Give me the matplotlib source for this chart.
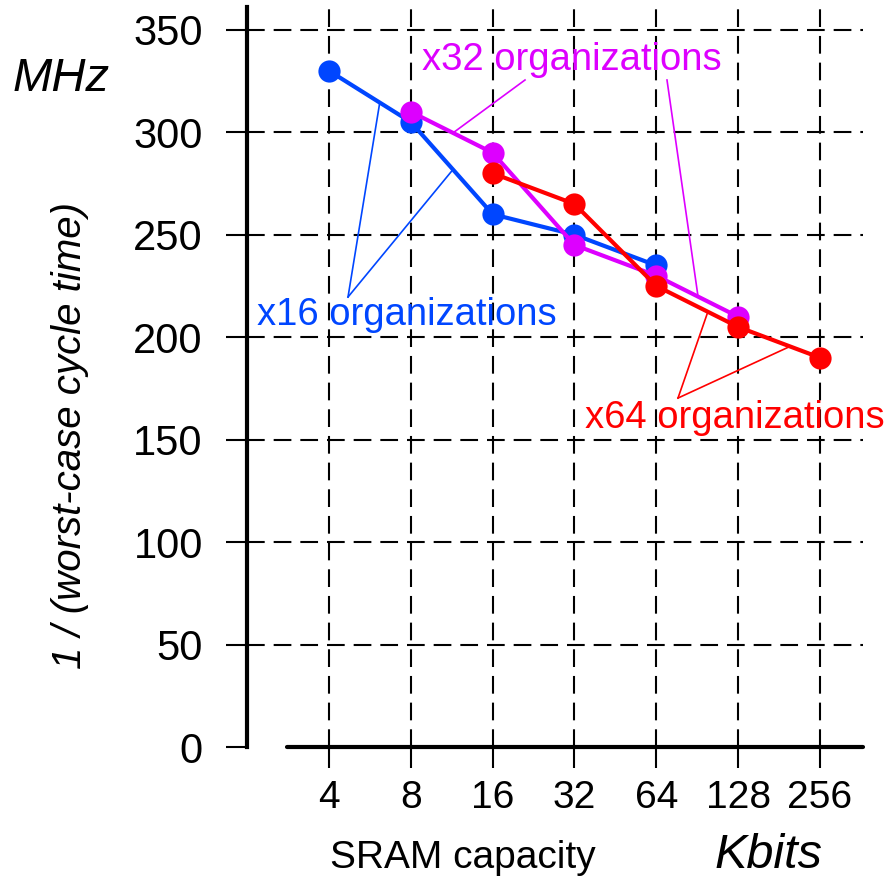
import numpy as np
import matplotlib
matplotlib.use("Agg")
import matplotlib.pyplot as plt

# ---- data ----
capacity_labels = ["4", "8", "16", "32", "64", "128", "256"]
x16_cap = [4, 8, 16, 32, 64]
x16_mhz = [330, 305, 260, 250, 235]
x32_cap = [8, 16, 32, 64, 128]
x32_mhz = [310, 290, 245, 230, 210]
x64_cap = [16, 32, 64, 128, 256]
x64_mhz = [280, 265, 225, 205, 190]
y_ticks = [0, 50, 100, 150, 200, 250, 300, 350]

BLUE = "#0046FF"
MAG = "#DD00FF"
RED = "#FF0000"
FONT = "Liberation Sans"

def pos(caps):
    return np.log2(np.asarray(caps, dtype=float)) - 2.0

fig = plt.figure(figsize=(8.94, 8.80), dpi=100)
ax = fig.add_axes([247.2 / 894, 133 / 880, 615.8 / 894, 739.7 / 880])
ax.set_xlim(-1, 6.526)
ax.set_ylim(0, 361)

# grid
dash = (0, (8.5, 4.3))
for yv in y_ticks[1:]:
    ax.axhline(yv, color="black", lw=1.5, ls=dash, zorder=1)
xpos_all = pos([int(c) for c in capacity_labels])
for xv in xpos_all:
    ax.plot([xv, xv], [0, 361], color="black", lw=1.5, ls=dash, zorder=1)

# spines
for s in ["top", "right"]:
    ax.spines[s].set_visible(False)
ax.spines["left"].set_linewidth(3)
ax.spines["left"].set_bounds(0, 361)
ax.spines["bottom"].set_linewidth(3)
ax.spines["bottom"].set_bounds(-0.513, 6.526)
ax.spines["bottom"].set_capstyle("round")

ax.set_yticks(y_ticks)
ax.set_yticklabels([str(v) for v in y_ticks], fontsize=30, fontfamily=FONT)
ax.set_xticks(xpos_all)
ax.set_xticklabels(capacity_labels, fontsize=28, fontfamily=FONT)
ax.tick_params(axis="y", direction="out", length=15, width=1.5, pad=17)
ax.tick_params(axis="x", direction="out", length=15, width=1.5, pad=9)

# series
lk = dict(lw=3, marker="o", ms=16, mew=0, zorder=3, clip_on=False)
ax.plot(pos(x16_cap), x16_mhz, color=BLUE, **lk)
ax.plot(pos(x32_cap), x32_mhz, color=MAG, **lk)
ax.plot(pos(x64_cap), x64_mhz, color=RED, **lk)

def on_line(caps, vals, xq):
    return xq, float(np.interp(xq, pos(caps), vals))

# leader lines
llw = 1.2
# x16
apex = (0.232, 219.6)
for xq in (0.62, 1.515):
    tx, ty = on_line(x16_cap, x16_mhz, xq)
    ax.plot([apex[0], tx], [apex[1], ty], color=BLUE, lw=llw, zorder=2)
# x32
for start, xq in (((525 - 329) / 81.83, (747 - 80) / 2.049), 1.515), (((667 - 329) / 81.83, (747 - 80) / 2.049), 4.51):
    tx, ty = on_line(x32_cap, x32_mhz, xq)
    ax.plot([start[0], tx], [start[1], ty], color=MAG, lw=llw, zorder=2)
# x64
apex = (4.265, 170.3)
for xq in (4.63, 5.634):
    tx, ty = on_line(x64_cap, x64_mhz, xq)
    ax.plot([apex[0], tx], [apex[1], ty], color=RED, lw=llw, zorder=2)

# annotation texts (figure pixel coords)
def ftext(px, py, s, **kw):
    fig.text(px / 894, 1 - py / 880, s, **kw)

ftext(422, 70, "x32 organizations", color=MAG, fontsize=27.5, fontfamily=FONT, va="baseline", ha="left")
ftext(257, 325, "x16 organizations", color=BLUE, fontsize=27.5, fontfamily=FONT, va="baseline", ha="left")
ftext(585, 428, "x64 organizations", color=RED, fontsize=27.5, fontfamily=FONT, va="baseline", ha="left")

ftext(13, 91, "MHz", fontsize=34, fontfamily=FONT, style="italic", va="baseline", ha="left")
ftext(714, 868, "Kbits", fontsize=35, fontfamily=FONT, style="italic", va="baseline", ha="left")
ftext(330, 868, "SRAM capacity", fontsize=28, fontfamily=FONT, va="baseline", ha="left")
ftext(70, 435, "1 / (worst-case cycle time)", fontsize=29, fontfamily=FONT, style="italic",
      rotation=90, va="center", ha="center")

fig.savefig("out.png", dpi=100)
